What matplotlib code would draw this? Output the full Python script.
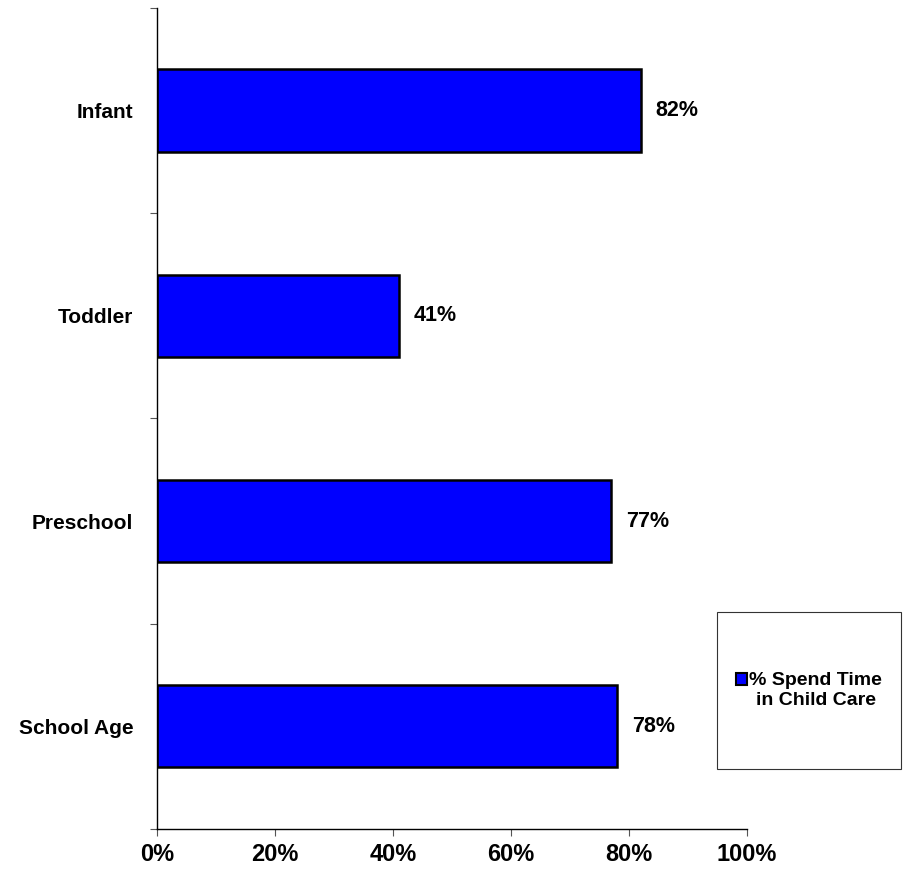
import matplotlib.pyplot as plt
from matplotlib.patches import Patch, Rectangle
from matplotlib.legend_handler import HandlerPatch

plt.rcParams['font.family'] = ['Liberation Sans', 'DejaVu Sans']
plt.rcParams['font.weight'] = 'bold'

# Child care usage by age group
groups = ["Infant", "Toddler", "Preschool", "School Age"]
pct_child_care = [82, 41, 77, 78]
x_ticks = [0, 20, 40, 60, 80, 100]
series_name = "% Spend Time\nin Child Care"

fig = plt.figure(figsize=(9.05, 8.8), dpi=100)
ax = fig.add_axes([0.1735, 0.058, 0.652, 0.933])

pos = list(range(len(groups)))
ax.barh(pos, pct_child_care, height=0.4, color="#0000FF",
        edgecolor="black", linewidth=1.8)

for y, v in zip(pos, pct_child_care):
    ax.annotate(f"{v}%", (v, y), xytext=(15, 0), textcoords="offset pixels",
                va="center", ha="left", fontsize=15.5, fontweight="bold")

ax.set_xlim(0, 100)
ax.set_ylim(len(groups) - 0.5, -0.5)

ax.set_xticks(x_ticks)
ax.set_xticklabels([f"{t}%" for t in x_ticks], fontsize=17, fontweight="bold")

# boundaries get the tick marks, group names sit between them
ax.set_yticks([p - 0.5 for p in pos] + [len(groups) - 0.5])
ax.set_yticklabels([])
ax.set_yticks(pos, groups, minor=True)
ax.tick_params(axis="y", which="minor", length=0, pad=17, labelsize=15)
ax.tick_params(axis="y", which="major", length=5, color="#555555")
ax.tick_params(axis="x", length=5, pad=5, color="#555555")

for side in ["top", "right"]:
    ax.spines[side].set_visible(False)
for side in ["left", "bottom"]:
    ax.spines[side].set_linewidth(1.0)


# legend swatch sits beside the first line of the label
def top_swatch(legend, orig_handle, xdescent, ydescent, width, height, fontsize):
    return Rectangle((-xdescent, -ydescent + 0.55 * fontsize), width, height)


# legend frame
fig.patches.append(Rectangle((0.792, 0.126), 0.204, 0.179,
                             transform=fig.transFigure, facecolor="white",
                             edgecolor="#333333", linewidth=0.8))
leg = fig.legend([Patch(facecolor="#0000FF", edgecolor="black", linewidth=1.5)],
                 [series_name], loc="center", bbox_to_anchor=(0.894, 0.2155),
                 frameon=False, fontsize=14, handlelength=0.55,
                 handleheight=0.55, handletextpad=0.15,
                 handler_map={Patch: HandlerPatch(patch_func=top_swatch)})
for t in leg.get_texts():
    t.set_multialignment("center")

fig.savefig("out.png", dpi=100)
